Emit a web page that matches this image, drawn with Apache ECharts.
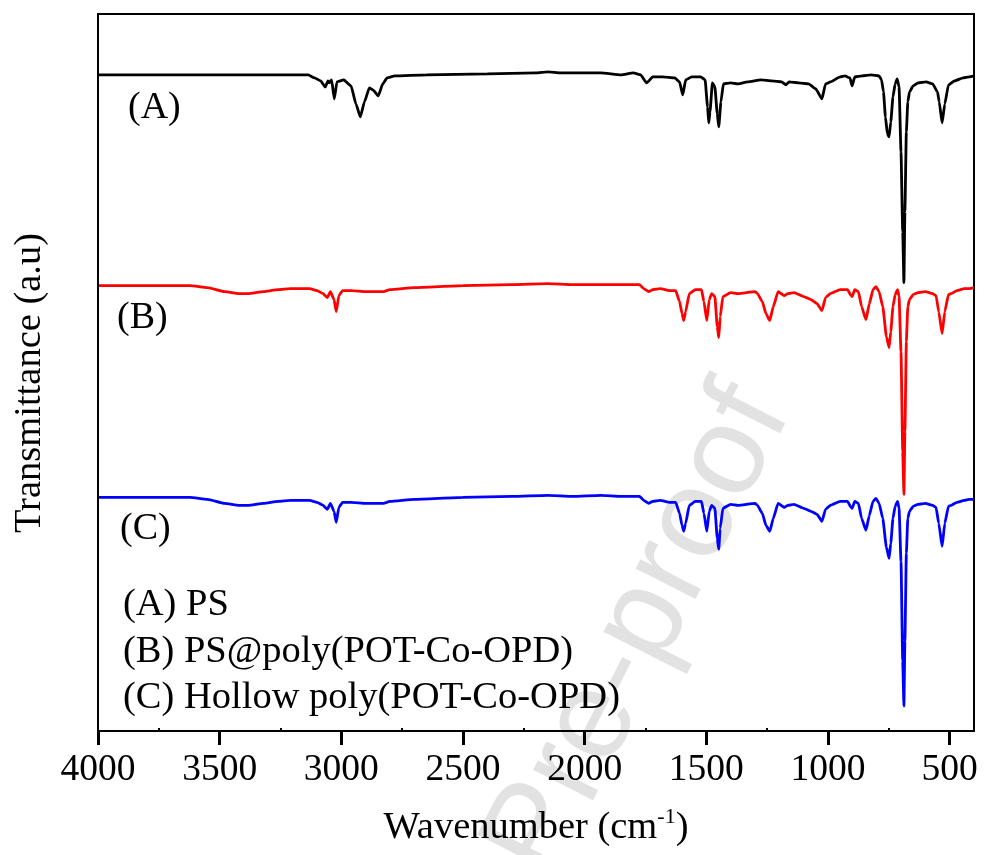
<!DOCTYPE html>
<html>
<head>
<meta charset="utf-8">
<title>FTIR spectra</title>
<script src="https://cdn.jsdelivr.net/npm/echarts@6/dist/echarts.min.js"></script>
<style>
  html, body { margin: 0; padding: 0; background: #fff; }
  #chart { width: 984px; height: 855px; }
</style>
</head>
<body>
<div id="chart"></div>
<script>
// Tick labels of the wavenumber axis (cm-1) and the minor ticks between them
const majorTicks = [4000, 3500, 3000, 2500, 2000, 1500, 1000, 500];
const minorTicks = [3750, 3250, 2750, 2250, 1750, 1250, 750];

// Series names and the in-plot legend lines
const seriesNames = ['(A)', '(B)', '(C)'];
const legendLines = ['(A) PS', '(B) PS@poly(POT-Co-OPD)', '(C) Hollow poly(POT-Co-OPD)'];

// (A) PS — [wavenumber, transmittance (a.u., stacked offset)]
const specA = [
  [4000, 657], [3150, 657], [3136, 657], [3110, 654], [3085, 651], [3066, 645],
  [3055, 651], [3050, 649], [3040, 652], [3029, 633], [3018, 650], [2990, 652],
  [2960, 646], [2940, 628], [2922, 615], [2905, 630], [2885, 644], [2870, 642],
  [2848, 636], [2830, 648], [2812, 654], [2780, 656], [2650, 657], [2400, 658],
  [2200, 659], [2150, 660], [2100, 659], [1990, 659], [1934, 659], [1850, 657],
  [1800, 659], [1770, 657], [1745, 649], [1720, 655], [1680, 655], [1630, 654],
  [1610, 650], [1597, 637], [1585, 652], [1560, 655], [1523, 655], [1505, 652],
  [1495, 625], [1490, 609], [1485, 620], [1475, 649], [1465, 645], [1455, 618],
  [1449, 605], [1440, 630], [1430, 648], [1400, 649], [1370, 648], [1330, 650],
  [1275, 652], [1230, 651], [1190, 650], [1173, 647], [1160, 650], [1120, 649],
  [1080, 648], [1050, 643], [1025, 633], [1010, 648], [990, 650], [950, 655],
  [930, 656], [910, 654], [901, 646], [890, 655], [860, 656], [823, 657],
  [790, 656], [780, 652], [772, 640], [764, 615], [756, 598], [749, 595],
  [742, 610], [733, 635], [724, 648], [716, 653], [708, 645], [700, 580],
  [693, 500], [688, 449], [684, 520], [678, 600], [672, 630], [665, 640],
  [650, 646], [630, 649], [597, 650], [570, 648], [550, 640], [543, 630],
  [531, 609], [520, 628], [505, 647], [480, 651], [445, 654], [420, 655],
  [400, 656]
];

// (B) PS@poly(POT-Co-OPD)
const specB = [
  [4000, 446], [3622, 446], [3550, 444], [3480, 440], [3420, 438], [3383, 438],
  [3320, 440], [3260, 442], [3210, 443], [3130, 443], [3100, 441], [3075, 438],
  [3058, 434], [3045, 440], [3030, 432], [3021, 420], [3010, 436], [2995, 441],
  [2960, 441], [2900, 440], [2827, 440], [2800, 442], [2700, 444], [2500, 446],
  [2300, 447], [2152, 448], [2050, 447], [1934, 447], [1850, 447], [1775, 447],
  [1757, 443], [1737, 440], [1720, 442], [1690, 443], [1650, 441], [1626, 441],
  [1610, 430], [1600, 418], [1593, 411], [1585, 420], [1570, 438], [1545, 442],
  [1520, 442], [1510, 430], [1498, 411], [1488, 432], [1478, 438], [1465, 435],
  [1455, 405], [1449, 394], [1443, 415], [1432, 435], [1400, 439], [1370, 438],
  [1300, 440], [1290, 438], [1270, 430], [1255, 418], [1239, 411], [1225, 425],
  [1205, 440], [1180, 436], [1165, 438], [1140, 439], [1100, 435], [1070, 432],
  [1045, 428], [1025, 421], [1010, 434], [990, 438], [950, 442], [920, 442],
  [905, 436], [901, 435], [890, 442], [875, 440], [862, 425], [844, 412],
  [830, 428], [815, 442], [803, 445], [790, 440], [775, 425], [760, 395],
  [749, 384], [742, 400], [733, 425], [724, 437], [714, 442], [708, 435],
  [700, 380], [693, 280], [688, 237], [684, 300], [678, 390], [672, 425],
  [665, 432], [650, 437], [630, 439], [600, 440], [570, 438], [556, 436],
  [545, 420], [531, 398], [520, 420], [505, 437], [494, 438], [470, 441],
  [440, 443], [420, 443], [400, 444]
];

// (C) Hollow poly(POT-Co-OPD)
const specC = [
  [4000, 234], [3622, 234], [3550, 232], [3480, 228], [3420, 226], [3383, 226],
  [3320, 228], [3260, 230], [3210, 231], [3130, 231], [3100, 229], [3075, 226],
  [3058, 222], [3045, 228], [3030, 220], [3021, 209], [3010, 224], [2995, 229],
  [2960, 229], [2900, 228], [2827, 228], [2800, 230], [2700, 232], [2500, 234],
  [2300, 235], [2152, 236], [2050, 235], [1934, 236], [1850, 235], [1775, 235],
  [1757, 231], [1737, 228], [1720, 230], [1690, 231], [1650, 229], [1626, 229],
  [1610, 218], [1600, 206], [1593, 200], [1585, 208], [1570, 226], [1545, 230],
  [1520, 230], [1510, 218], [1498, 200], [1488, 220], [1478, 226], [1465, 223],
  [1455, 193], [1449, 182], [1443, 203], [1432, 223], [1400, 227], [1370, 226],
  [1300, 228], [1290, 226], [1270, 218], [1255, 206], [1239, 200], [1225, 213],
  [1205, 228], [1180, 224], [1165, 226], [1140, 227], [1100, 223], [1070, 220],
  [1045, 217], [1025, 210], [1010, 222], [990, 226], [950, 230], [920, 230],
  [905, 224], [901, 223], [890, 230], [875, 228], [862, 213], [844, 201],
  [830, 216], [815, 230], [803, 233], [790, 228], [775, 213], [760, 184],
  [749, 173], [742, 188], [733, 213], [724, 225], [714, 230], [708, 223],
  [700, 170], [693, 70], [688, 25], [684, 90], [678, 178], [672, 213],
  [665, 220], [650, 225], [630, 227], [600, 228], [570, 226], [556, 224],
  [545, 208], [531, 185], [520, 208], [505, 225], [494, 226], [470, 229],
  [440, 231], [420, 232], [400, 232]
];

const seriesColors = ['#000000', '#ff0000', '#0000ff'];
const serif = '"Times New Roman", "Liberation Serif", "DejaVu Serif", serif';

const chart = echarts.init(document.getElementById('chart'), null, { renderer: 'canvas' });

const grid = { left: 98, right: 10, top: 14, bottom: 123 };

function textEl(x, y, text, size, extra) {
  return Object.assign({
    type: 'text', x: x, y: y, z: 10,
    style: {
      text: text, fontSize: size, fontFamily: serif, fill: '#000',
      textAlign: 'left', textVerticalAlign: 'middle'
    }
  }, extra || {});
}

const option = {
  backgroundColor: '#fff',
  animation: false,
  grid: Object.assign({ show: true, borderColor: '#000', borderWidth: 2, backgroundColor: 'transparent' }, grid),
  xAxis: [{
    type: 'value', inverse: true, min: 400, max: 4000,
    position: 'bottom', z: 5,
    axisLine: { show: true, lineStyle: { color: '#000', width: 2 } },
    axisTick: { show: true, customValues: majorTicks, length: 14, inside: false, lineStyle: { color: '#000', width: 3 } },
    axisLabel: {
      show: true, customValues: majorTicks, margin: 20, fontSize: 37.5, fontFamily: serif, color: '#000',
      formatter: (v) => String(v)
    },
    splitLine: { show: false },
    name: '{a|Wavenumber (cm}{s|-1}{a|)}',
    nameLocation: 'middle', nameGap: 75,
    nameTextStyle: {
      rich: {
        a: { fontSize: 38.5, fontFamily: serif, color: '#000', lineHeight: 44 },
        s: { fontSize: 22, fontFamily: serif, color: '#000', verticalAlign: 'top', lineHeight: 44, padding: [0, 0, 22, 0] }
      }
    }
  }, {
    type: 'value', inverse: true, min: 400, max: 4000,
    position: 'bottom', gridIndex: 0, z: 5,
    axisLine: { show: false },
    axisTick: { show: true, customValues: minorTicks, length: 3, inside: true, lineStyle: { color: '#000', width: 2 } },
    axisLabel: { show: false },
    splitLine: { show: false }
  }],
  yAxis: {
    type: 'value', min: 0, max: 718, z: 5,
    axisLine: { show: true, lineStyle: { color: '#000', width: 2 } },
    axisTick: { show: false },
    axisLabel: { show: false },
    splitLine: { show: false }
  },
  series: [specA, specB, specC].map((d, i) => ({
    name: seriesNames[i],
    type: 'line',
    xAxisIndex: 0,
    data: d,
    showSymbol: false,
    smooth: 0.15,
    smoothMonotone: 'x',
    lineStyle: { color: seriesColors[i], width: 2.8 },
    z: 3
  })),
  graphic: [
    // faint diagonal watermark, kept beneath axes, lines and text
    {
      type: 'text', x: 537, y: 833, rotation: 63 * Math.PI / 180, z: -10,
      style: {
        text: 'Journal Pre-proof', fontSize: 127,
        fontFamily: '"Liberation Sans", Arial, sans-serif',
        fill: '#e2e2e2', textAlign: 'center', textVerticalAlign: 'middle'
      }
    },
    textEl(30, 383, 'Transmittance (a.u)', 38, { rotation: Math.PI / 2, style: {
      text: 'Transmittance (a.u)', fontSize: 38.5, fontFamily: serif, fill: '#000',
      textAlign: 'center', textVerticalAlign: 'middle' } }),
    textEl(128, 108, seriesNames[0], 38),
    textEl(117, 318, seriesNames[1], 38),
    textEl(120, 529, seriesNames[2], 38),
    textEl(123, 605, legendLines[0], 38.5),
    textEl(123, 652, legendLines[1], 38.5),
    textEl(123, 698, legendLines[2], 38.5)
  ]
};

chart.setOption(option);
</script>
</body>
</html>
